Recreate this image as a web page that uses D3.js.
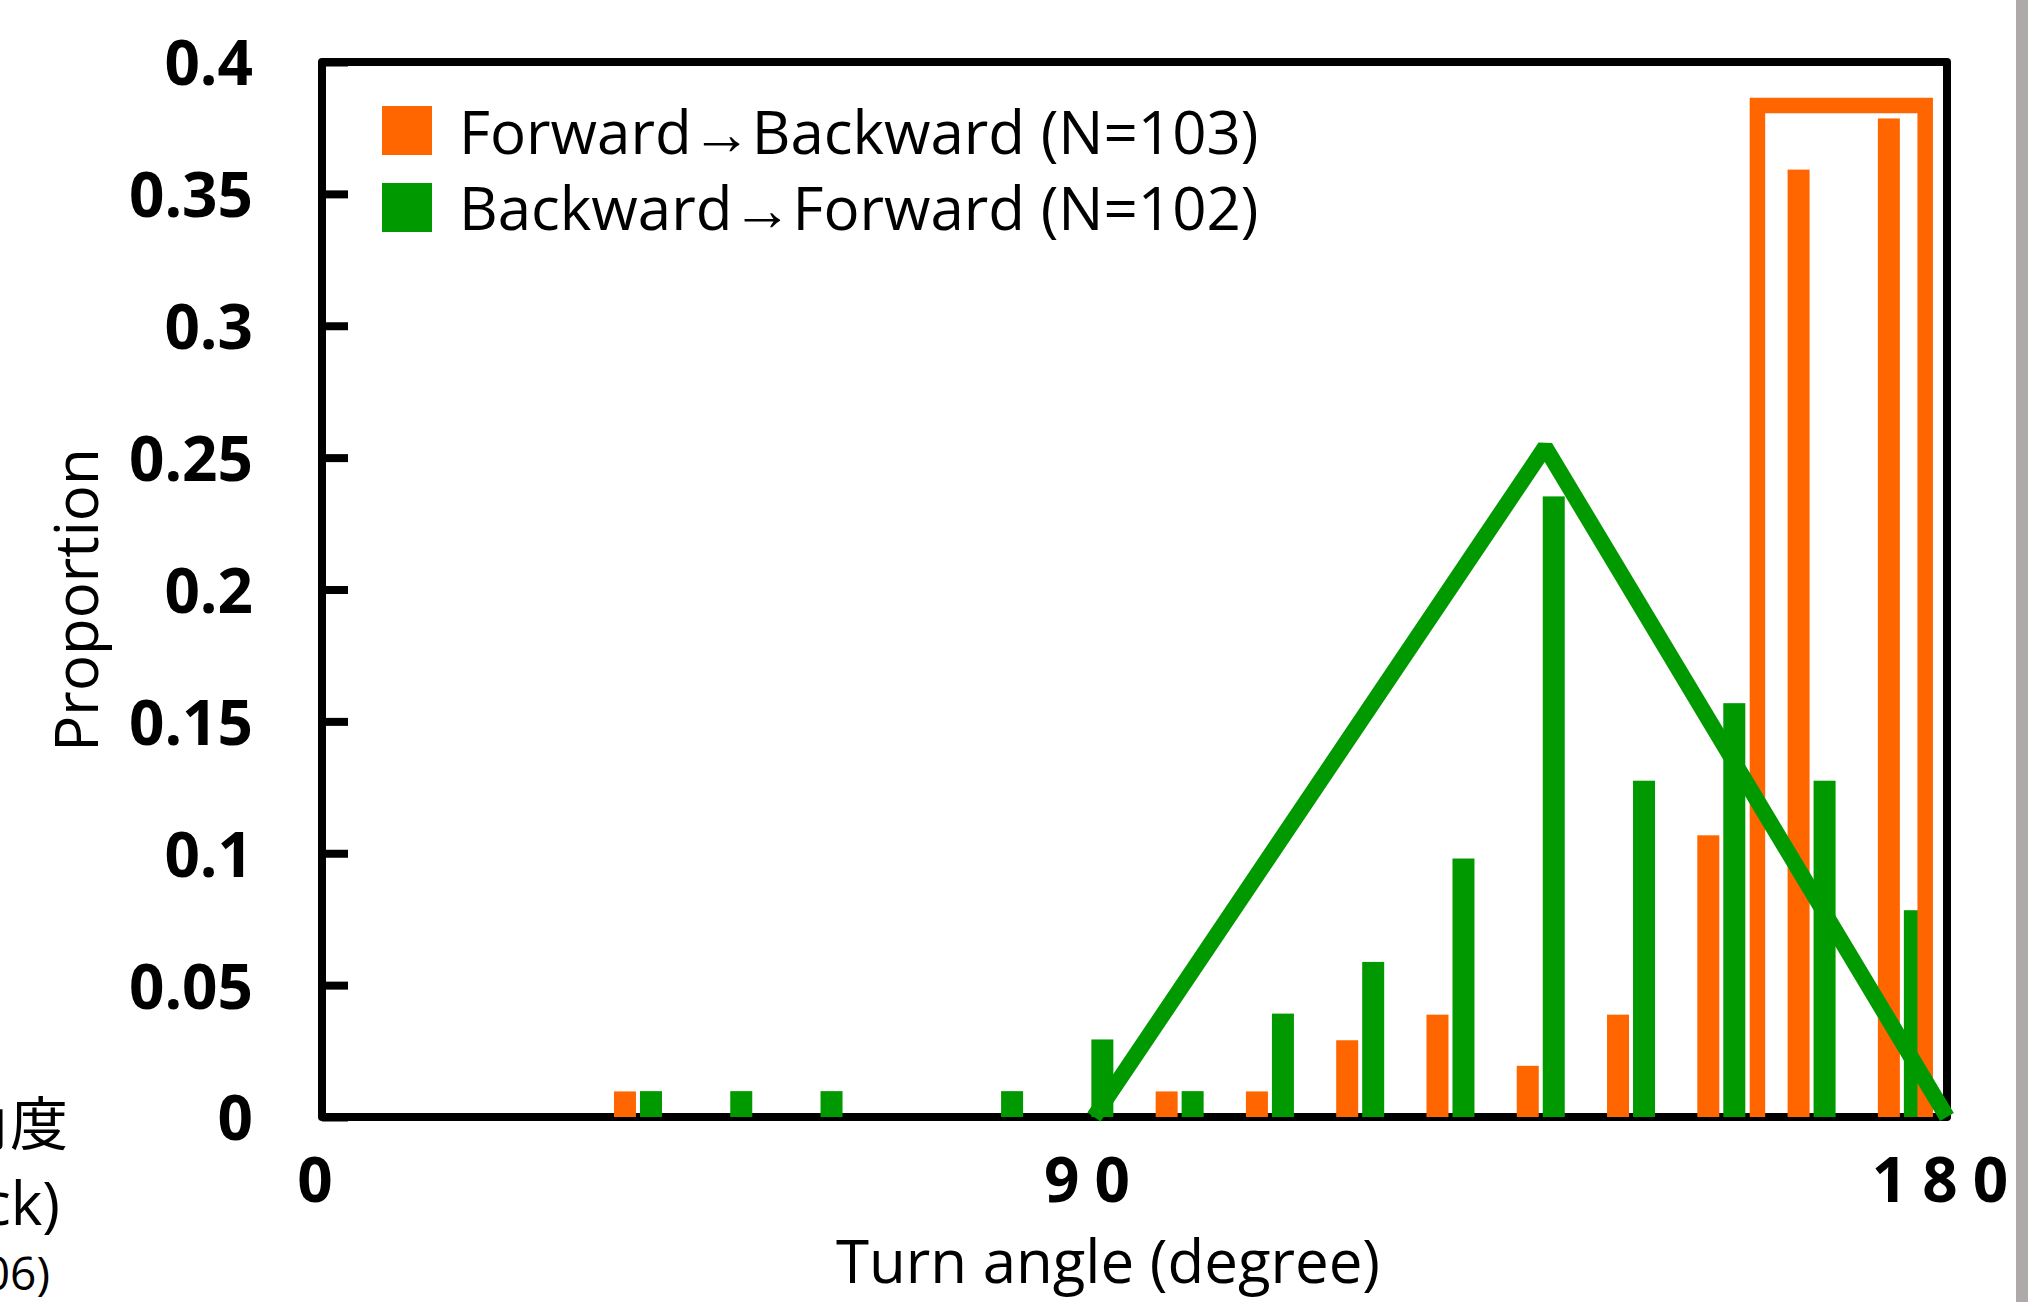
<!DOCTYPE html>
<html>
<head>
<meta charset="utf-8">
<script src="https://cdn.jsdelivr.net/npm/d3@7"></script>
<style>
  body { margin: 0; background: #fff; }
  svg { display: block; }
</style>
</head>
<body>
<div id="chart"></div>
<script>
// 10-degree bins of turn angle
const bins = ["0-10", "10-20", "20-30", "30-40", "40-50", "50-60", "60-70", "70-80", "80-90",
              "90-100", "100-110", "110-120", "120-130", "130-140", "140-150", "150-160", "160-170", "170-180"];

// proportions
const fwdToBack = [0, 0, 0, 0.0097, 0, 0, 0, 0, 0, 0.0097, 0.0097, 0.0291, 0.0388, 0.0194, 0.0388, 0.1068, 0.3592, 0.3786];
const backToFwd = [0, 0, 0, 0.0098, 0.0098, 0.0098, 0, 0.0098, 0.0294, 0.0098, 0.0392, 0.0588, 0.0980, 0.2353, 0.1275, 0.1569, 0.1275, 0.0784];

// hand-drawn outlines over the bars (degree, proportion)
const greenShapeDeg = [90, 137.6, 180];
const greenShapeVal = [0, 0.254, 0];
const orangeShapeDeg = [160, 160, 177.7, 177.7];
const orangeShapeVal = [0, 0.3835, 0.3835, 0];

const yTicks = [0, 0.05, 0.1, 0.15, 0.2, 0.25, 0.3, 0.35, 0.4];
const xTicks = [0, 90, 180];

const seriesNames = ["Forward\u2192Backward (N=103)", "Backward\u2192Forward (N=102)"];
const colors = ["#ff6600", "#009900"];

const W = 2030, H = 1302;
const plotL = 322, plotR = 1947, plotT = 62, plotB = 1117;

const svg = d3.select("#chart").append("svg")
    .attr("width", W)
    .attr("height", H);

// bins are laid out evenly, the labelled angle axis was placed by hand
const xBin = d3.scaleBand().domain(bins).range([plotL, plotR]).padding(0);
const xSeries = d3.scaleBand().domain([0, 1]).range([-24, 24]).paddingInner(0.1538);
const xDeg = d3.scaleLinear().domain([0, 90, 180]).range([plotL, 1094, plotR]);
const y = d3.scaleLinear().domain([0, 0.4]).range([plotB, 62]);

// frame
svg.append("rect")
    .attr("x", plotL).attr("y", plotT)
    .attr("width", plotR - plotL).attr("height", plotB - plotT)
    .attr("fill", "none")
    .attr("stroke", "#000")
    .attr("stroke-width", 8)
    .attr("stroke-linejoin", "round");

// y axis, ticks pointing inward
const yAxis = svg.append("g")
    .attr("transform", `translate(${plotL},0)`)
    .call(d3.axisLeft(y).tickValues(yTicks).tickSize(-26).tickPadding(69).tickFormat(d => String(d)));
yAxis.select(".domain").remove();
yAxis.selectAll(".tick line").attr("stroke", "#000").attr("stroke-width", 8);
yAxis.selectAll(".tick text")
    .attr("dy", "0.37em")
    .attr("fill", "#000")
    .style("font-family", "'Open Sans', sans-serif")
    .style("font-weight", "bold")
    .style("font-size", "62px");

// x axis labels only
const xAxis = svg.append("g")
    .attr("transform", `translate(0,${plotB})`)
    .call(d3.axisBottom(xDeg).tickValues(xTicks).tickSize(0).tickPadding(41).tickFormat(d => String(d)));
xAxis.select(".domain").remove();
xAxis.selectAll(".tick text")
    .attr("fill", "#000")
    .style("letter-spacing", "15px")
    .style("font-family", "'Open Sans', sans-serif")
    .style("font-weight", "bold")
    .style("font-size", "62px");

// bars
const series = [fwdToBack, backToFwd];
series.forEach((vals, si) => {
    svg.append("g").selectAll("rect")
        .data(bins.map((b, i) => ({ bin: b, v: vals[i] })).filter(d => d.v > 0))
        .join("rect")
        .attr("x", d => xBin(d.bin) + xBin.bandwidth() / 2 + xSeries(si))
        .attr("y", d => y(d.v))
        .attr("width", xSeries.bandwidth())
        .attr("height", d => y(0) - y(d.v))
        .attr("fill", colors[si]);
});

// outlines
const line = d3.line().x(d => xDeg(d[0])).y(d => y(d[1]));

svg.append("path")
    .attr("d", line(orangeShapeDeg.map((d, i) => [d, orangeShapeVal[i]])))
    .attr("fill", "none")
    .attr("stroke", colors[0])
    .attr("stroke-width", 15.5)
    .attr("stroke-linejoin", "miter");

svg.append("path")
    .attr("d", line(greenShapeDeg.map((d, i) => [d, greenShapeVal[i]])))
    .attr("fill", "none")
    .attr("stroke", colors[1])
    .attr("stroke-width", 16)
    .attr("stroke-linejoin", "bevel");

// legend
const legend = svg.append("g");
seriesNames.forEach((name, i) => {
    legend.append("rect")
        .attr("x", 382).attr("y", 106 + i * 77)
        .attr("width", 50).attr("height", 49)
        .attr("fill", colors[i]);
    legend.append("text")
        .attr("x", 459).attr("y", 154 + i * 76)
        .attr("fill", "#000")
        .style("font-family", "'Open Sans', sans-serif")
        .style("font-size", "60px")
        .text(name);
});

// axis titles
svg.append("text")
    .attr("x", 1108).attr("y", 1283)
    .attr("text-anchor", "middle")
    .style("font-family", "'Open Sans', sans-serif")
    .style("font-size", "60px")
    .text("Turn angle (degree)");

svg.append("text")
    .attr("transform", "translate(98,600) rotate(-90)")
    .attr("text-anchor", "middle")
    .style("font-family", "'Open Sans', sans-serif")
    .style("font-size", "60px")
    .text("Proportion");

// remains of the neighbouring panel, cut by the left edge as in the source
svg.append("text")
    .attr("x", 68).attr("y", 1145)
    .attr("text-anchor", "end")
    .style("font-family", "'Noto Sans CJK JP', sans-serif")
    .style("font-size", "58px")
    .text("角度");
svg.append("text")
    .attr("x", 60).attr("y", 1225)
    .attr("text-anchor", "end")
    .style("font-family", "'Open Sans', sans-serif")
    .style("font-size", "60px")
    .text("(Back)");
svg.append("text")
    .attr("x", 50).attr("y", 1290)
    .attr("text-anchor", "end")
    .style("font-family", "'Open Sans', sans-serif")
    .style("font-size", "46px")
    .text("(N=106)");

// grey strip at the right edge
svg.append("rect")
    .attr("x", 2016).attr("y", 0)
    .attr("width", 12).attr("height", H)
    .attr("fill", "#aeaaaa");
</script>
</body>
</html>
